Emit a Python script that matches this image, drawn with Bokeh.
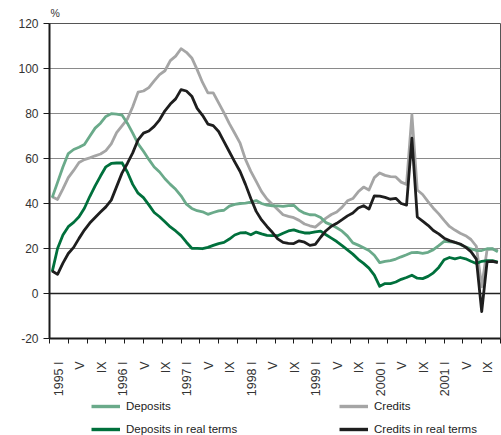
import math
from bokeh.plotting import figure
from bokeh.layouts import column
from bokeh.models import (Range1d, FixedTicker, Legend, LegendItem, Span)
from bokeh.embed import file_html
from bokeh.resources import INLINE

# ---- data (monthly, 1995 I .. 2001 XII), % ----
deposits = [42.6, 49.4, 56.2, 62.2, 64.0, 65.0, 66.2, 69.9, 73.5, 75.7, 78.7, 79.9, 79.7, 79.3,
            75.7, 71.3, 66.5, 63.2, 59.6, 56.2, 54.0, 51.0, 48.5, 46.3, 43.4, 39.7, 37.8, 36.8,
            36.3, 35.2, 36.0, 36.7, 37.0, 38.8, 39.6, 40.0, 40.2, 40.6, 41.3, 40.0, 39.3, 39.0,
            38.9, 38.7, 39.1, 39.2, 37.0, 35.7, 35.0, 34.9, 33.8, 31.5, 30.5, 29.2, 27.7, 25.5,
            22.5, 21.5, 20.3, 19.1, 17.0, 13.7, 14.3, 14.6, 15.3, 16.3, 17.2, 18.2, 18.3, 17.8,
            18.3, 19.5, 21.3, 23.2, 22.9, 22.8, 21.8, 20.7, 19.8, 19.1, 19.1, 19.9, 19.9, 18.6]
deposits_real = [9.6, 20.0, 26.0, 29.7, 31.6, 34.1, 37.9, 43.1, 47.8, 52.2, 56.3, 57.8, 58.0, 58.1,
                 54.0, 48.5, 44.6, 42.6, 39.4, 36.0, 34.1, 31.9, 29.6, 27.8, 25.7, 22.8, 20.1, 20.1,
                 19.9, 20.5, 21.4, 22.2, 22.7, 24.2, 26.0, 26.9, 27.1, 26.1, 27.3, 26.5, 25.8, 25.7,
                 25.7, 26.8, 27.8, 28.3, 27.5, 26.9, 26.9, 27.4, 27.7, 26.1, 24.6, 23.1, 21.3, 19.4,
                 17.5, 15.2, 13.4, 11.3, 8.2, 3.2, 4.4, 4.4, 5.1, 6.3, 7.1, 8.1, 6.8, 6.6,
                 7.6, 9.2, 11.6, 15.0, 16.0, 15.4, 16.0, 15.4, 14.3, 13.3, 14.3, 14.6, 14.6, 14.0]
credits = [43.0, 41.8, 46.5, 51.5, 54.7, 58.2, 59.5, 60.3, 61.2, 62.0, 63.5, 66.5, 71.5, 74.5,
           77.5, 83.0, 89.5, 90.0, 91.5, 94.5, 97.3, 99.0, 103.5, 105.5, 108.8, 107.2, 104.7, 99.5,
           93.8, 89.2, 89.2, 84.7, 80.3, 75.5, 71.2, 66.8, 59.6, 54.3, 49.8, 45.3, 42.0, 39.7,
           37.3, 35.0, 34.3, 33.7, 32.5, 30.9, 30.1, 29.5, 31.5, 33.5, 35.1, 36.2, 38.4, 41.2,
           42.2, 45.2, 47.3, 46.0, 51.5, 53.6, 52.5, 51.9, 51.8, 49.5, 48.5, 79.5, 46.0, 44.0,
           40.8, 37.9, 35.4, 32.5, 29.8, 28.2, 26.8, 25.7, 24.0, 21.0, 3.0, 19.5, 19.8, 19.1]
credits_real = [10.0, 8.5, 13.5, 17.8, 20.5, 24.5, 28.2, 31.3, 33.8, 36.2, 38.5, 41.5, 47.5, 53.5,
                57.8, 62.5, 68.3, 71.3, 72.2, 74.3, 77.2, 81.2, 84.2, 86.5, 90.6, 90.0, 87.7, 82.3,
                79.2, 75.3, 74.6, 72.0, 67.5, 63.0, 58.5, 54.2, 48.5, 42.2, 36.5, 32.7, 29.8, 27.2,
                24.3, 22.7, 22.3, 22.2, 23.4, 22.8, 21.4, 21.8, 25.0, 27.9, 29.9, 31.2, 32.8, 34.5,
                35.8, 38.0, 39.0, 37.5, 43.4, 43.3, 42.7, 41.9, 42.3, 40.0, 39.3, 69.0, 34.0, 32.2,
                30.3, 28.0, 26.5, 24.6, 23.5, 22.7, 22.0, 20.6, 18.6, 15.3, -8.0, 14.1, 14.3, 13.7]

tick_labels = ["1995 I", "V", "IX", "1996 I", "V", "IX", "1997 I", "V", "IX",
               "1998 I", "V", "IX", "1999 I", "V", "IX", "2000 I", "V", "IX",
               "2001 I", "V", "IX"]
y_ticks = [-20, 0, 20, 40, 60, 80, 100, 120]

months = list(range(len(deposits)))

C_DEP = "#6aaa8a"
C_DEPR = "#00703c"
C_CRE = "#a5a5a5"
C_CRER = "#1e1e1e"
FONT = "Liberation Sans"

p = figure(width=501, height=399, output_backend="svg", toolbar_location=None,
           x_range=Range1d(-0.5, len(months) - 0.5), y_range=Range1d(-20, 120),
           min_border_left=49, min_border_right=1, min_border_top=22, min_border_bottom=61)
p.background_fill_color = "white"
p.border_fill_color = "white"
p.outline_line_color = "#555555"
p.outline_line_width = 1

# "%" unit marker above the axis
p.title.text = "%"
p.title.align = "left"
p.title.offset = 1
p.title.standoff = 9
p.title.vertical_align = "bottom"
p.title.text_font = FONT
p.title.text_font_style = "normal"
p.title.text_font_size = "10.5px"
p.title.text_color = "#333333"

# grid
p.xgrid.visible = False
p.ygrid.ticker = FixedTicker(ticks=y_ticks)
p.ygrid.grid_line_color = "#8a8a8a"
p.ygrid.grid_line_width = 1
p.add_layout(Span(location=0, dimension="width", line_color="#222222", line_width=1.6))

# y axis
ya = p.yaxis[0]
ya.ticker = FixedTicker(ticks=y_ticks)
ya.major_label_overrides = {t: str(t) for t in y_ticks}
ya.axis_line_color = "#1a1a1a"
ya.axis_line_width = 2
ya.major_tick_out = 6
ya.major_tick_in = 0
ya.major_tick_line_color = "#1a1a1a"
ya.minor_tick_line_color = None
ya.major_label_text_font = FONT
ya.major_label_text_font_size = "12px"
ya.major_label_text_color = "#333333"
ya.major_label_standoff = 5

# x axis: labels every 4 months, tick marks every 3.5 months
label_pos = [4 * k + 1.2 for k in range(len(tick_labels))]
minor_pos = [3.5 * k - 0.5 for k in range(25)]
xa = p.xaxis[0]
xa.ticker = FixedTicker(ticks=label_pos, minor_ticks=minor_pos)
xa.major_label_overrides = {pos: lab for pos, lab in zip(label_pos, tick_labels)}
xa.major_label_orientation = math.pi / 2
xa.axis_line_color = "#1a1a1a"
xa.axis_line_width = 2
xa.major_tick_line_color = None
xa.major_tick_out = 0
xa.major_tick_in = 0
xa.minor_tick_line_color = "#1a1a1a"
xa.minor_tick_out = 5
xa.minor_tick_in = 0
xa.major_label_text_font = FONT
xa.major_label_text_font_size = "12.5px"
xa.major_label_text_color = "#333333"
xa.major_label_standoff = 18

LW = 2.8
r_cre = p.line(months, credits, line_color=C_CRE, line_width=LW, line_join="round")
r_dep = p.line(months, deposits, line_color=C_DEP, line_width=LW, line_join="round")
r_depr = p.line(months, deposits_real, line_color=C_DEPR, line_width=LW, line_join="round")
r_crer = p.line(months, credits_real, line_color=C_CRER, line_width=LW, line_join="round")

# ---- legend strip below the chart (same series, view set outside the data) ----
q = figure(width=501, height=36, output_backend="svg", toolbar_location=None,
           x_range=Range1d(1000, 1001), y_range=Range1d(1000, 1001),
           x_axis_location=None, y_axis_location=None,
           min_border_left=0, min_border_right=0, min_border_top=0, min_border_bottom=0)
q.outline_line_color = None
q.grid.visible = False
q.background_fill_color = "white"
q.border_fill_color = "white"
LLW = 3.4
k_dep = q.line(months, deposits, line_color=C_DEP, line_width=LLW)
k_depr = q.line(months, deposits_real, line_color=C_DEPR, line_width=LLW)
k_cre = q.line(months, credits, line_color=C_CRE, line_width=LLW)
k_crer = q.line(months, credits_real, line_color=C_CRER, line_width=LLW)

def make_legend(items, loc):
    lg = Legend(items=items, location=loc)
    lg.label_text_font = FONT
    lg.label_text_font_size = "11.5px"
    lg.label_text_color = "#222222"
    lg.glyph_width = 29
    lg.glyph_height = 14
    lg.label_height = 14
    lg.label_standoff = 6
    lg.spacing = 9
    lg.padding = 0
    lg.margin = 0
    lg.border_line_color = None
    lg.background_fill_alpha = 0
    return lg

q.add_layout(make_legend([LegendItem(label="Deposits", renderers=[k_dep]),
                          LegendItem(label="Deposits in real terms", renderers=[k_depr])],
                         (42, -1)))
q.add_layout(make_legend([LegendItem(label="Credits", renderers=[k_cre]),
                          LegendItem(label="Credits in real terms", renderers=[k_crer])],
                         (290, -1)))

layout = column(p, q, spacing=0)
open("out.html", "w").write(file_html(layout, INLINE))
